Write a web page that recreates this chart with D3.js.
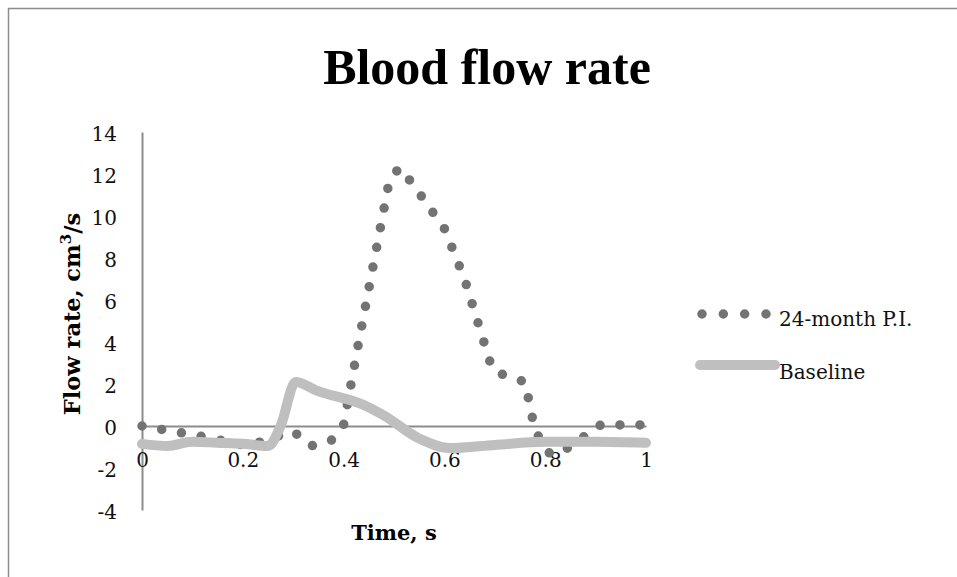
<!DOCTYPE html>
<html>
<head>
<meta charset="utf-8">
<script src="https://cdn.jsdelivr.net/npm/d3@7"></script>
<style>
  body { margin: 0; background: #fff; }
  svg { display: block; }
</style>
</head>
<body>
<div id="chart"></div>
<script>
// données
const seriesNames = ["24-month P.I.", "Baseline"];
const timePI = [0, 0.12, 0.21, 0.30, 0.335, 0.375, 0.40, 0.43, 0.49, 0.51, 0.535, 0.60, 0.64, 0.695, 0.72, 0.76, 0.78, 0.81, 0.845, 0.91, 1.0];
const flowPI = [0, -0.5, -0.95, -0.25, -0.95, -0.7, 0.05, 4.0, 11.6, 12.3, 11.6, 9.4, 7.0, 2.7, 2.4, 2.1, -0.25, -1.35, -1.05, 0.05, 0.05];
const timeBase = [0, 0.05, 0.1, 0.15, 0.2, 0.25, 0.275, 0.305, 0.345, 0.44, 0.48, 0.55, 0.61, 0.7, 0.8, 0.9, 1.0];
const flowBase = [-0.85, -0.95, -0.75, -0.8, -0.85, -0.95, 0.0, 2.1, 1.7, 1.0, 0.5, -0.6, -1.05, -0.9, -0.75, -0.75, -0.8];
const xTicks = [0, 0.2, 0.4, 0.6, 0.8, 1];
const yTicks = [-4, -2, 0, 2, 4, 6, 8, 10, 12, 14];

const width = 957, height = 577;
const serif = "'DejaVu Serif', serif";

const svg = d3.select("#chart").append("svg")
  .attr("width", width)
  .attr("height", height);

// cadre
svg.append("rect")
  .attr("x", 8.5).attr("y", 8.5)
  .attr("width", width + 20).attr("height", height + 20)
  .attr("fill", "none")
  .attr("stroke", "#8c8c8c")
  .attr("stroke-width", 1.5);

// échelles
const x = d3.scaleLinear().domain([0, 1]).range([142, 646]);
const y = d3.scaleLinear().domain([-4, 14]).range([510, 132]);

// titre
svg.append("text")
  .attr("x", 487).attr("y", 84)
  .attr("text-anchor", "middle")
  .attr("font-family", "'Liberation Serif', serif")
  .attr("font-weight", "bold")
  .attr("font-size", 50)
  .text("Blood flow rate");

// axe Y
const yAxis = svg.append("g")
  .attr("transform", `translate(${x(0)},0)`)
  .call(d3.axisLeft(y).tickValues(yTicks).tickSize(0).tickPadding(25).tickFormat(d => String(d)));
yAxis.select(".domain").attr("stroke", "#8c8c8c").attr("stroke-width", 2);
yAxis.selectAll("text")
  .attr("font-family", serif).attr("font-size", 20).attr("fill", "#111")
  .attr("dy", "0.4em");

// axe X (croise à 0)
const xAxis = svg.append("g")
  .attr("transform", `translate(0,${y(0)})`)
  .call(d3.axisBottom(x).tickValues(xTicks).tickSize(0).tickPadding(27).tickFormat(d => String(d)));
xAxis.select(".domain").attr("stroke", "#8c8c8c").attr("stroke-width", 2);
xAxis.selectAll("text")
  .attr("font-family", serif).attr("font-size", 20).attr("fill", "#111");

// titres des axes
svg.append("text")
  .attr("x", 394).attr("y", 540)
  .attr("text-anchor", "middle")
  .attr("font-family", serif).attr("font-weight", "bold").attr("font-size", 21)
  .text("Time, s");

const yTitle = svg.append("text")
  .attr("transform", "translate(80,314) rotate(-90)")
  .attr("text-anchor", "middle")
  .attr("font-family", serif).attr("font-weight", "bold").attr("font-size", 22.5);
yTitle.append("tspan").text("Flow rate, cm");
yTitle.append("tspan").attr("dy", -9).attr("font-size", 15).text("3");
yTitle.append("tspan").attr("dy", 9).text("/s");

// séries
const dataPI = timePI.map((t, i) => ({ t, v: flowPI[i] }));
const dataBase = timeBase.map((t, i) => ({ t, v: flowBase[i] }));

const linePI = d3.line().x(d => x(d.t)).y(d => y(d.v));
const lineBase = d3.line().x(d => x(d.t)).y(d => y(d.v)).curve(d3.curveMonotoneX);

svg.append("path")
  .datum(dataPI)
  .attr("fill", "none")
  .attr("stroke", "#737373")
  .attr("stroke-width", 9.5)
  .attr("stroke-linecap", "round")
  .attr("stroke-dasharray", "0 20")
  .attr("d", linePI);

svg.append("path")
  .datum(dataBase)
  .attr("fill", "none")
  .attr("stroke", "#bfbfbf")
  .attr("stroke-width", 10)
  .attr("stroke-linecap", "round")
  .attr("stroke-linejoin", "round")
  .attr("d", lineBase);

// légende
const legend = svg.append("g");
legend.append("path")
  .attr("d", d3.line()([[702, 314], [766, 314]]))
  .attr("stroke", "#737373").attr("stroke-width", 9.5)
  .attr("stroke-linecap", "round").attr("stroke-dasharray", "0 21.33");
legend.append("path")
  .attr("d", d3.line()([[700, 365], [775, 365]]))
  .attr("stroke", "#bfbfbf").attr("stroke-width", 10)
  .attr("stroke-linecap", "round");
legend.selectAll("text.leg")
  .data(seriesNames)
  .join("text")
  .attr("class", "leg")
  .attr("x", 779)
  .attr("y", (d, i) => i === 0 ? 326 : 379)
  .attr("font-family", serif).attr("font-size", 20).attr("fill", "#111")
  .text(d => d);
</script>
</body>
</html>
